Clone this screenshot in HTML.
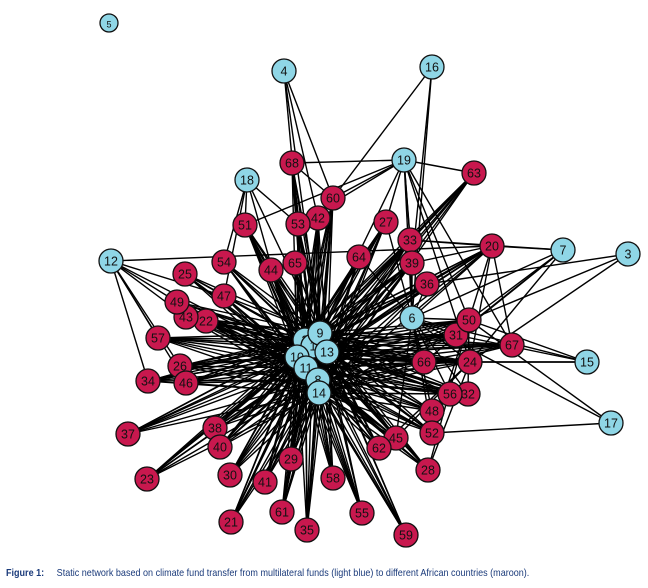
<!DOCTYPE html>
<html><head><meta charset="utf-8"><style>
html,body{margin:0;padding:0;background:#fff;width:648px;height:588px;overflow:hidden}
svg{position:absolute;left:0;top:0}
.cap{position:absolute;left:6px;top:567px;font-family:"Liberation Sans",sans-serif;font-size:10.5px;color:#1a3a7a;transform:scaleX(0.86);transform-origin:left top;white-space:nowrap}
</style></head><body>
<svg id="g" width="648" height="560" xmlns="http://www.w3.org/2000/svg"></svg>
<div class="cap"><b>Figure 1:</b>&nbsp;&nbsp;&nbsp;&nbsp;&nbsp;Static network based on climate fund transfer from multilateral funds (light blue) to different African countries (maroon).</div>
<script>
const B={5:[109,23],4:[284,71],16:[432,67],19:[404,160],18:[247,180],7:[563,250],3:[628,254],12:[111,261],6:[412,318],15:[587,362],17:[611,423],
2:[305,340],1:[313,346],9:[320,333],13:[327,352],10:[297,357],11:[306,368],8:[318,380],14:[319,393]};
const R={68:[292,163],63:[474,173],60:[333,198],51:[245,225],53:[298,224],42:[318,218],27:[386,222],33:[410,240],20:[492,246],54:[224,262],44:[271,270],65:[295,263],64:[359,257],39:[412,263],25:[185,274],47:[224,296],36:[427,284],49:[177,302],43:[186,317],22:[206,321],50:[469,320],31:[456,335],57:[158,338],67:[512,345],26:[180,366],66:[424,362],24:[470,362],34:[148,381],46:[186,383],56:[450,394],32:[468,394],48:[432,411],37:[128,434],38:[215,428],52:[432,433],45:[396,438],62:[379,448],40:[220,447],29:[291,459],28:[428,470],23:[147,479],30:[230,475],41:[265,482],58:[333,478],61:[282,512],55:[362,513],21:[231,522],35:[307,530],59:[406,535]};
const P=Object.assign({},B,R);
const C=[9,1,2,10,11,13,8,14];
const E=[];
for(const r in R){for(const c of C)E.push([+r,c]);}
[[4,60],[4,53],[4,9],[4,42],[16,60],[16,39],[16,6],[19,68],[19,63],[19,60],[19,51],[19,27],[19,33],[19,39],[19,6],[19,50],[19,24],[19,67],[19,9],[19,53],[18,51],[18,53],[18,54],[18,47],[18,9],[18,10],[12,49],[12,57],[12,26],[12,34],[12,46],[12,43],[12,20],[12,47],[12,10],[7,6],[7,50],[7,24],[7,33],[7,20],[7,66],[7,31],[3,24],[3,50],[3,36],[15,50],[15,31],[15,66],[15,6],[15,24],[17,52],[17,50],[17,6],[6,20],[6,50],[6,31],[6,24],[6,66],[6,56],[6,32],[6,48],[6,52],[6,45],[6,33],[6,39],[6,36],[6,27],[6,64],[60,68],[33,20],[39,20],[36,20],[50,20],[24,20],[32,50],[52,50],[28,50],[28,24],[62,24],[45,24],[67,20]].forEach(e=>E.push(e));
const g=document.getElementById('g');
let s='';
for(const [a,b] of E){const p=P[a],q=P[b];s+=`<line x1="${p[0]}" y1="${p[1]}" x2="${q[0]}" y2="${q[1]}" stroke="#000" stroke-width="1.4"/>`;}
function node(k,col){const p=P[k];const r=k==5?9:12;s+=`<circle cx="${p[0]}" cy="${p[1]}" r="${r}" fill="${col}" stroke="#111" stroke-width="1.3"/><text x="${p[0]}" y="${p[1]+4.5}" text-anchor="middle" font-family="Liberation Sans,sans-serif" font-size="${k==5?9:12.5}" fill="#111">${k}</text>`;}
for(const k in R)node(k,'#c8184e');
for(const k of [5,4,16,19,18,7,3,12,6,15,17,2,1,10,9,13,11,8,14])node(k,'#8fd6e6');
g.innerHTML=s;
</script>
</body></html>
